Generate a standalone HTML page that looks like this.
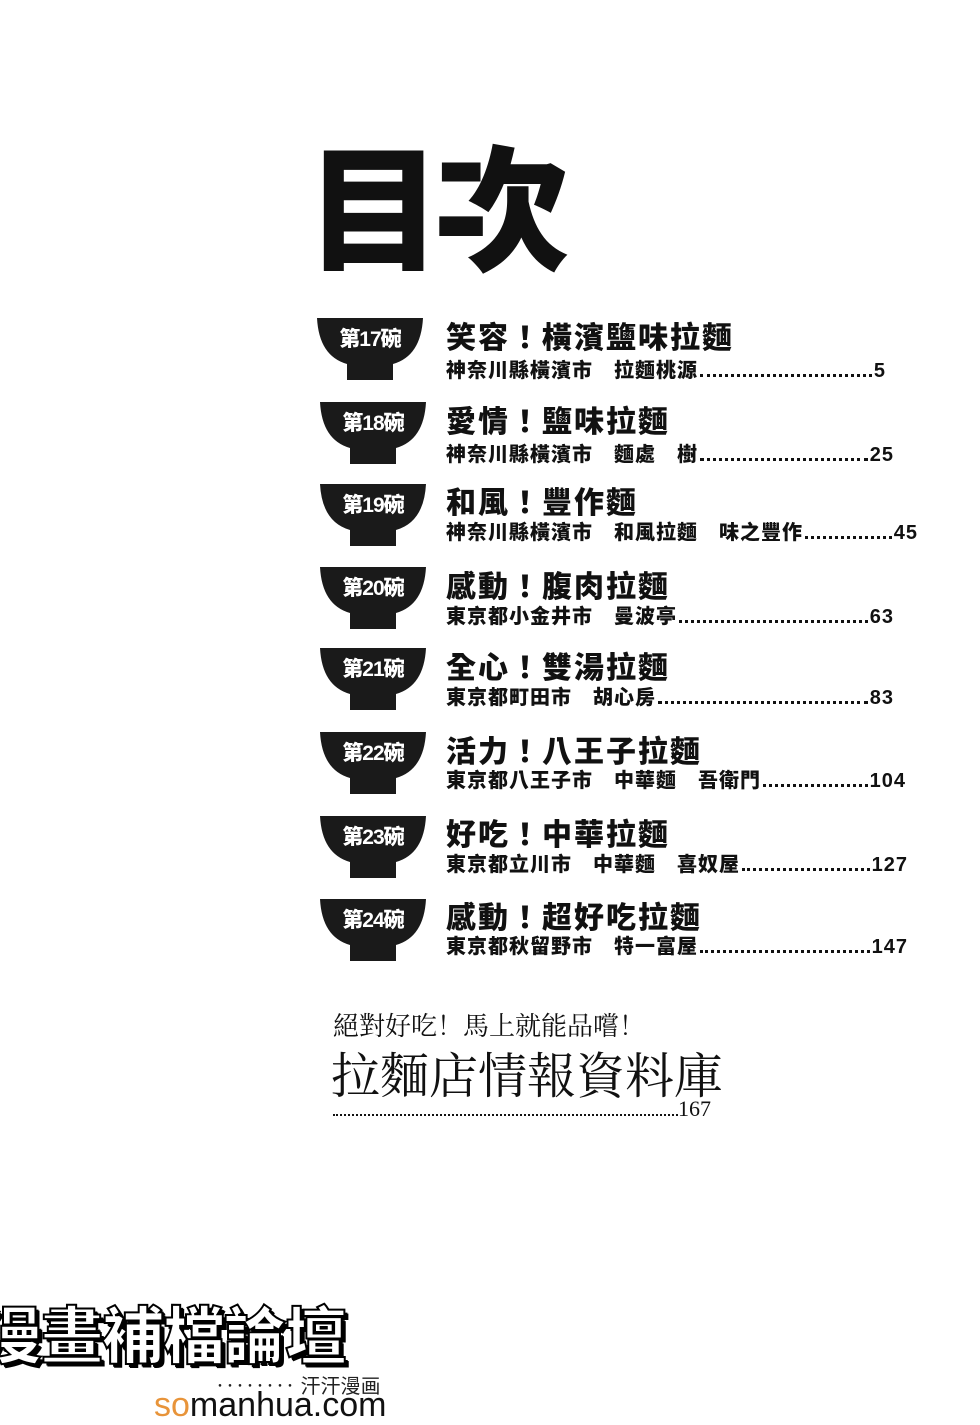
<!DOCTYPE html>
<html><head><meta charset="utf-8"><style>
body{margin:0;width:980px;height:1425px;background:#fff;position:relative;overflow:hidden;font-family:"Liberation Sans","Noto Sans CJK TC",sans-serif;color:#111}
.a{position:absolute;white-space:nowrap}
.t{font-weight:900;font-size:30px;letter-spacing:2px}
.s{font-weight:900;font-size:20px;letter-spacing:1px;display:flex;align-items:baseline;left:446px}
.s i{flex:1;border-bottom:3px dotted #111;margin:0 2px 4px 2px;height:0}
.bowl{position:absolute;width:110px;height:66px}
.bl{position:absolute;color:#fff;font-weight:900;font-size:21px;width:110px;text-align:center;letter-spacing:-1px}
.serif{font-family:"Liberation Serif","Noto Serif CJK SC",serif}
</style></head><body>
<div class="a" style="left:306px;top:145px;font-size:136px;font-weight:900;letter-spacing:-8px;line-height:1;">目次</div>

<svg width="0" height="0" style="position:absolute"><defs><path id="b" d="M2 2 H108 Q106 40 78 48 L78 64 H32 L32 48 Q4 40 2 2Z" fill="#1a1a1a"/></defs></svg>

<div style="position:absolute;left:315px;top:316px"><svg class="bowl" viewBox="0 0 110 66"><use href="#b"/></svg><div class="bl" style="top:7px">第17碗</div></div>
<div class="a t" style="left:446px;top:313px">笑容！橫濱鹽味拉麵</div>
<div class="a s" style="top:354px;width:440px">神奈川縣橫濱市　拉麵桃源<i></i>5</div>

<div style="position:absolute;left:318px;top:400px"><svg class="bowl" viewBox="0 0 110 66"><use href="#b"/></svg><div class="bl" style="top:7px">第18碗</div></div>
<div class="a t" style="left:446px;top:397px">愛情！鹽味拉麵</div>
<div class="a s" style="top:438px;width:448px">神奈川縣橫濱市　麵處　樹<i></i>25</div>

<div style="position:absolute;left:318px;top:482px"><svg class="bowl" viewBox="0 0 110 66"><use href="#b"/></svg><div class="bl" style="top:7px">第19碗</div></div>
<div class="a t" style="left:446px;top:478px">和風！豐作麵</div>
<div class="a s" style="top:516px;width:472px">神奈川縣橫濱市　和風拉麵　味之豐作<i></i>45</div>

<div style="position:absolute;left:318px;top:565px"><svg class="bowl" viewBox="0 0 110 66"><use href="#b"/></svg><div class="bl" style="top:7px">第20碗</div></div>
<div class="a t" style="left:446px;top:562px">感動！腹肉拉麵</div>
<div class="a s" style="top:600px;width:448px">東京都小金井市　曼波亭<i></i>63</div>

<div style="position:absolute;left:318px;top:646px"><svg class="bowl" viewBox="0 0 110 66"><use href="#b"/></svg><div class="bl" style="top:7px">第21碗</div></div>
<div class="a t" style="left:446px;top:643px">全心！雙湯拉麵</div>
<div class="a s" style="top:681px;width:448px">東京都町田市　胡心房<i></i>83</div>

<div style="position:absolute;left:318px;top:730px"><svg class="bowl" viewBox="0 0 110 66"><use href="#b"/></svg><div class="bl" style="top:7px">第22碗</div></div>
<div class="a t" style="left:446px;top:727px">活力！八王子拉麵</div>
<div class="a s" style="top:764px;width:460px">東京都八王子市　中華麵　吾衛門<i></i>104</div>

<div style="position:absolute;left:318px;top:814px"><svg class="bowl" viewBox="0 0 110 66"><use href="#b"/></svg><div class="bl" style="top:7px">第23碗</div></div>
<div class="a t" style="left:446px;top:810px">好吃！中華拉麵</div>
<div class="a s" style="top:848px;width:462px">東京都立川市　中華麵　喜奴屋<i></i>127</div>

<div style="position:absolute;left:318px;top:897px"><svg class="bowl" viewBox="0 0 110 66"><use href="#b"/></svg><div class="bl" style="top:7px">第24碗</div></div>
<div class="a t" style="left:446px;top:893px">感動！超好吃拉麵</div>
<div class="a s" style="top:930px;width:462px">東京都秋留野市　特一富屋<i></i>147</div>

<div class="a serif" style="left:333px;top:1006px;font-size:26px">絕對好吃！馬上就能品嚐！</div>
<div class="a serif" style="left:331px;top:1038px;font-size:49px">拉麵店情報資料庫</div>
<div class="a serif" style="left:333px;top:1096px;font-size:22px;display:flex;align-items:baseline;width:378px"><i style="flex:1;border-bottom:2px dotted #111;margin-bottom:5px"></i>167</div>

<div class="a" style="left:-20px;top:1286px;font-size:62px;font-weight:900;color:#fff;letter-spacing:-1px;-webkit-text-stroke:2px #000;text-shadow:3px 3px 0 #000,4px 4px 0 #000">漫畫補檔論壇</div>
<div class="a" style="left:215px;top:1370px;font-size:20px;color:#222">‥‥‥‥ 汗汗漫画</div>
<div class="a" style="left:154px;top:1386px;font-size:34px;color:#111"><span style="color:#e8943a">so</span>manhua.com</div>
</body></html>
